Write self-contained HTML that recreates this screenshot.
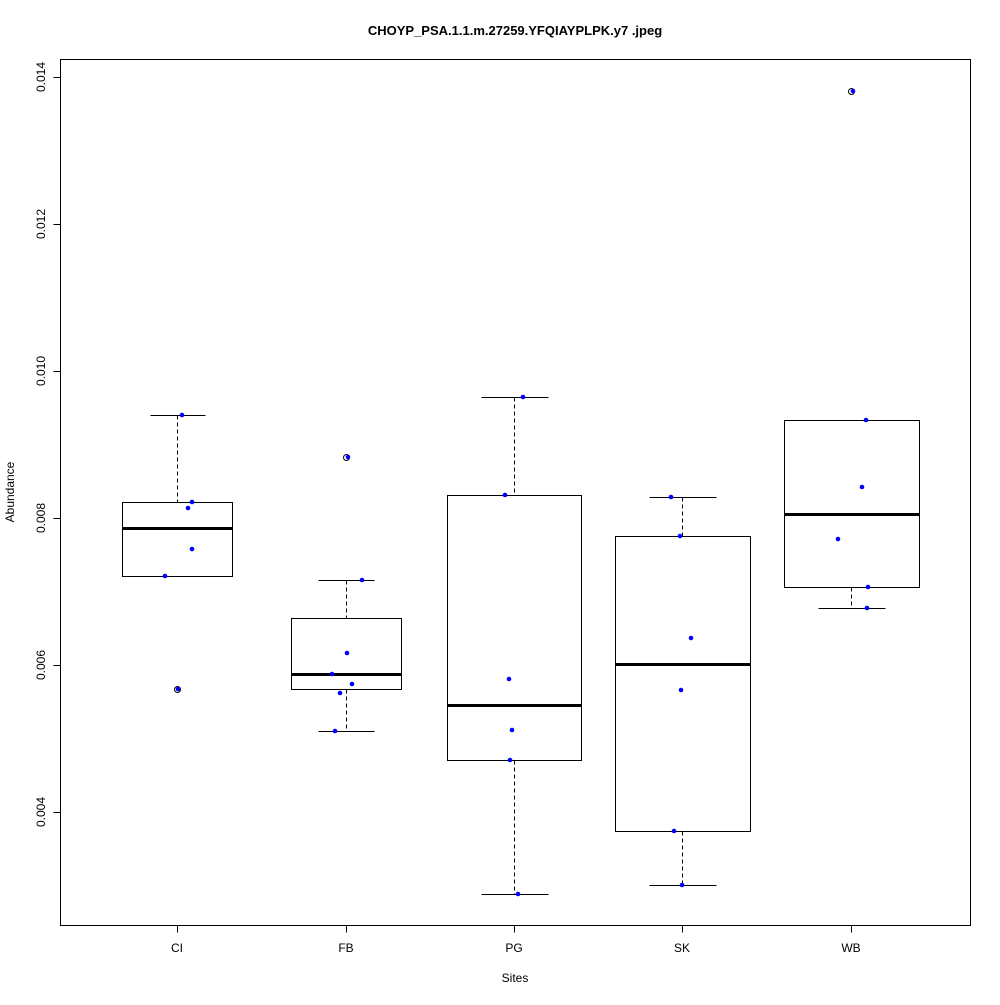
<!DOCTYPE html>
<html><head><meta charset="utf-8"><style>body{margin:0;background:#fff}</style></head><body>
<svg width="1000" height="1000" xmlns="http://www.w3.org/2000/svg" font-family="Liberation Sans, sans-serif">
<rect width="1000" height="1000" fill="#fff"/>
<text x="515" y="35" font-size="13" font-weight="bold" text-anchor="middle">CHOYP_PSA.1.1.m.27259.YFQIAYPLPK.y7 .jpeg</text>
<g transform="translate(0.5,0.5)" shape-rendering="crispEdges">
<rect x="60" y="59" width="910" height="866" fill="none" stroke="#000"/>
<g stroke="#000">
<line x1="60" y1="77" x2="60" y2="812"/>
<line x1="53" y1="812" x2="60" y2="812"/><line x1="53" y1="665" x2="60" y2="665"/><line x1="53" y1="518" x2="60" y2="518"/><line x1="53" y1="371" x2="60" y2="371"/><line x1="53" y1="224" x2="60" y2="224"/><line x1="53" y1="77" x2="60" y2="77"/>
<line x1="177" y1="925" x2="851" y2="925"/>
<line x1="177" y1="925" x2="177" y2="932"/><line x1="346" y1="925" x2="346" y2="932"/><line x1="514" y1="925" x2="514" y2="932"/><line x1="682" y1="925" x2="682" y2="932"/><line x1="851" y1="925" x2="851" y2="932"/>
</g>
</g>
<g font-size="12" text-anchor="middle">
<text transform="translate(45,812) rotate(-90)">0.004</text>
<text transform="translate(45,665) rotate(-90)">0.006</text>
<text transform="translate(45,518) rotate(-90)">0.008</text>
<text transform="translate(45,371) rotate(-90)">0.010</text>
<text transform="translate(45,224) rotate(-90)">0.012</text>
<text transform="translate(45,77) rotate(-90)">0.014</text>
<text x="177" y="952">CI</text><text x="346" y="952">FB</text><text x="514" y="952">PG</text><text x="682" y="952">SK</text><text x="851" y="952">WB</text>
<text x="515" y="982">Sites</text>
<text transform="translate(14,492) rotate(-90)">Abundance</text>
</g>
<g stroke="#000" fill="none" transform="translate(0.5,0.5)">
<line x1="177" y1="415" x2="177" y2="502" stroke-dasharray="4,3"/>
<line x1="150" y1="415" x2="205" y2="415"/><line x1="150" y1="576" x2="205" y2="576"/>
<rect x="122" y="502" width="110" height="74"/>
<line x1="122" y1="528" x2="232" y2="528" stroke-width="3"/>
<circle cx="177" cy="689" r="3"/>
<line x1="346" y1="580" x2="346" y2="618" stroke-dasharray="4,3"/>
<line x1="346" y1="689" x2="346" y2="731" stroke-dasharray="4,3"/>
<line x1="318" y1="580" x2="374" y2="580"/><line x1="318" y1="731" x2="374" y2="731"/>
<rect x="291" y="618" width="110" height="71"/>
<line x1="291" y1="674" x2="401" y2="674" stroke-width="3"/>
<circle cx="346" cy="457" r="3"/>
<line x1="514" y1="397" x2="514" y2="495" stroke-dasharray="4,3"/>
<line x1="514" y1="760" x2="514" y2="894" stroke-dasharray="4,3"/>
<line x1="481" y1="397" x2="548" y2="397"/><line x1="481" y1="894" x2="548" y2="894"/>
<rect x="447" y="495" width="134" height="265"/>
<line x1="447" y1="705" x2="581" y2="705" stroke-width="3"/>
<line x1="682" y1="497" x2="682" y2="536" stroke-dasharray="4,3"/>
<line x1="682" y1="831" x2="682" y2="885" stroke-dasharray="4,3"/>
<line x1="649" y1="497" x2="716" y2="497"/><line x1="649" y1="885" x2="716" y2="885"/>
<rect x="615" y="536" width="135" height="295"/>
<line x1="615" y1="664" x2="750" y2="664" stroke-width="3"/>
<line x1="851" y1="587" x2="851" y2="608" stroke-dasharray="4,3"/>
<line x1="818" y1="420" x2="885" y2="420"/><line x1="818" y1="608" x2="885" y2="608"/>
<rect x="784" y="420" width="135" height="167"/>
<line x1="784" y1="514" x2="919" y2="514" stroke-width="3"/>
<circle cx="851" cy="91" r="3"/>
</g>
<g fill="#0000ff">
<circle cx="182" cy="415" r="2.3"/><circle cx="192" cy="502" r="2.3"/><circle cx="188" cy="508" r="2.3"/><circle cx="192" cy="549" r="2.3"/><circle cx="165" cy="576" r="2.3"/><circle cx="178" cy="689" r="2.3"/>
<circle cx="348" cy="457" r="2.3"/><circle cx="362" cy="580" r="2.3"/><circle cx="347" cy="653" r="2.3"/><circle cx="352" cy="684" r="2.3"/><circle cx="332" cy="674" r="2.3"/><circle cx="340" cy="693" r="2.3"/><circle cx="335" cy="731" r="2.3"/>
<circle cx="523" cy="397" r="2.3"/><circle cx="505" cy="495" r="2.3"/><circle cx="509" cy="679" r="2.3"/><circle cx="512" cy="730" r="2.3"/><circle cx="510" cy="760" r="2.3"/><circle cx="518" cy="894" r="2.3"/>
<circle cx="671" cy="497" r="2.3"/><circle cx="680" cy="536" r="2.3"/><circle cx="691" cy="638" r="2.3"/><circle cx="681" cy="690" r="2.3"/><circle cx="674" cy="831" r="2.3"/><circle cx="682" cy="885" r="2.3"/>
<circle cx="853" cy="91" r="2.3"/><circle cx="866" cy="420" r="2.3"/><circle cx="862" cy="487" r="2.3"/><circle cx="838" cy="539" r="2.3"/><circle cx="868" cy="587" r="2.3"/><circle cx="867" cy="608" r="2.3"/>
</g>
</svg>
</body></html>
